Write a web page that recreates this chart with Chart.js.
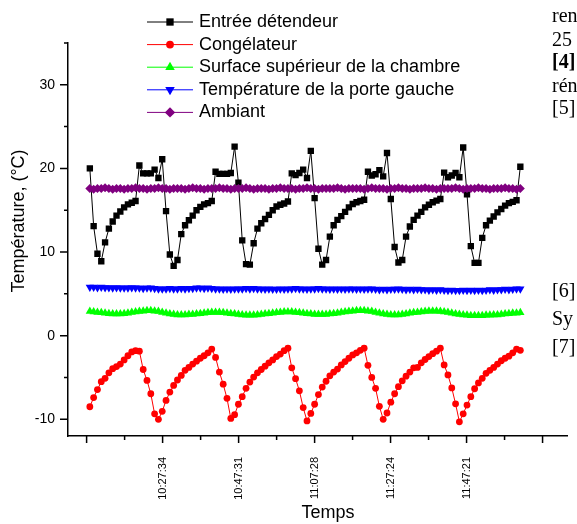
<!DOCTYPE html>
<html>
<head>
<meta charset="utf-8">
<script src="https://cdn.jsdelivr.net/npm/chart.js@4.4.0/dist/chart.umd.min.js"></script>
<style>
  html, body { margin: 0; padding: 0; background: #fff; overflow: hidden; }
  #wrap { position: relative; width: 577px; height: 524px; }
  .note { position: absolute; left: 552px; font: 20px "Liberation Serif", "Times New Roman", serif; line-height: 20px; white-space: nowrap; color: #000; }
  .note.b { font-weight: bold; }
</style>
</head>
<body>
<div id="wrap">
  <canvas id="chart" width="577" height="524"></canvas>
  <span class="note" style="top:5px">ren</span>
  <span class="note" style="top:29px">25</span>
  <span class="note b" style="top:51px">[4]</span>
  <span class="note" style="top:75px">rén</span>
  <span class="note" style="top:97px">[5]</span>
  <span class="note" style="top:280px">[6]</span>
  <span class="note" style="top:308px">Sy</span>
  <span class="note" style="top:336px">[7]</span>
</div>
<script>
// one sample per minute
const sampleStart = "10:08:28";
const sampleStep = 60;

const tickTimes = ["10:07:37", "10:27:34", "10:47:31", "11:07:28", "11:27:24", "11:47:21", "12:07:18"];
const tickShown = [false, true, true, true, true, true, false];
const yTicks = [-10, 0, 10, 20, 30];
const yMinor = [-5, 5, 15, 25, 35];

const entree = [
  20.0, 13.1, 9.8, 8.9, 11.15, 12.8, 13.65, 14.35, 14.85, 15.35,
  15.7, 15.9, 16.1, 20.35, 19.4, 19.4, 19.4, 19.85, 18.85, 21.1,
  14.9, 9.7, 8.35, 9.05, 12.15, 13.2, 13.8, 14.35, 15.0, 15.4,
  15.7, 15.85, 16.1, 19.6, 19.35, 19.35, 19.35, 19.45, 22.6, 18.3,
  11.4, 8.55, 8.5, 11.05, 12.8, 13.45, 13.95, 14.45, 15.0, 15.45,
  15.65, 15.8, 16.05, 19.4, 19.2, 19.45, 19.85, 18.85, 22.1, 16.45,
  10.4, 8.5, 9.05, 11.85, 13.2, 13.85, 14.3, 14.8, 15.35, 15.75,
  15.95, 16.1, 16.25, 19.6, 19.15, 19.3, 19.8, 19.05, 21.85, 16.35,
  10.6, 8.75, 9.05, 11.85, 13.05, 13.85, 14.35, 14.8, 15.35, 15.65,
  15.95, 16.15, 16.35, 19.5, 18.95, 19.15, 19.45, 18.95, 22.5, 16.9,
  10.7, 8.7, 8.7, 11.7, 13.2, 13.75, 14.25, 14.75, 15.15, 15.55,
  15.85, 16.0, 16.2, 20.2
];

const congelateur = [
  -8.5, -7.4, -6.45, -5.5, -5.1, -4.45, -3.95, -3.7, -3.4, -2.9,
  -2.4, -1.95, -1.8, -1.85, -4.05, -5.35, -6.95, -9.35, -10.0, -9.05,
  -7.75, -6.75, -5.95, -5.3, -4.75, -4.15, -3.8, -3.4, -3.05, -2.7,
  -2.4, -2.05, -1.6, -2.6, -4.35, -5.8, -7.5, -9.9, -9.45, -8.2,
  -7.3, -6.3, -5.55, -4.95, -4.45, -4.05, -3.65, -3.25, -2.9, -2.5,
  -2.2, -1.8, -1.5, -3.85, -5.15, -6.6, -8.6, -10.2, -9.3, -8.2,
  -7.05, -6.15, -5.45, -4.8, -4.35, -4.0, -3.5, -3.1, -2.7, -2.3,
  -2.05, -1.75, -1.5, -3.55, -5.0, -6.3, -8.45, -10.0, -9.25, -7.95,
  -6.95, -6.1, -5.4, -4.85, -4.35, -3.85, -3.8, -3.25, -2.85, -2.5,
  -2.15, -1.85, -1.5, -3.5, -4.7, -6.25, -8.15, -10.3, -9.35, -8.3,
  -7.3, -6.35, -5.65, -5.1, -4.5, -4.15, -3.8, -3.4, -3.0, -2.7,
  -2.45, -2.05, -1.6, -1.75
];

const surface = [
  2.9, 2.85, 2.8, 2.75, 2.7, 2.65, 2.6, 2.6, 2.6, 2.65,
  2.7, 2.8, 2.85, 2.9, 2.95, 3.0, 3.0, 2.95, 2.9, 2.8,
  2.7, 2.6, 2.55, 2.5, 2.5, 2.5, 2.55, 2.55, 2.6, 2.65,
  2.7, 2.75, 2.8, 2.8, 2.8, 2.75, 2.7, 2.65, 2.6, 2.55,
  2.5, 2.45, 2.45, 2.45, 2.5, 2.55, 2.6, 2.65, 2.7, 2.75,
  2.8, 2.85, 2.85, 2.85, 2.8, 2.75, 2.7, 2.65, 2.6, 2.55,
  2.55, 2.55, 2.55, 2.6, 2.65, 2.7, 2.8, 2.85, 2.9, 2.95,
  3.0, 3.0, 3.0, 2.95, 2.9, 2.8, 2.7, 2.6, 2.55, 2.5,
  2.5, 2.5, 2.55, 2.6, 2.7, 2.75, 2.8, 2.85, 2.9, 2.95,
  2.95, 2.95, 2.9, 2.85, 2.8, 2.7, 2.6, 2.55, 2.5, 2.45,
  2.4, 2.4, 2.4, 2.4, 2.45, 2.45, 2.5, 2.5, 2.55, 2.6,
  2.65, 2.7, 2.7, 2.75
];

const porte = [
  5.8, 5.8, 5.75, 5.8, 5.75, 5.75, 5.7, 5.75, 5.7, 5.7,
  5.7, 5.75, 5.7, 5.7, 5.65, 5.7, 5.7, 5.65, 5.6, 5.6,
  5.6, 5.65, 5.6, 5.6, 5.65, 5.6, 5.65, 5.65, 5.7, 5.7,
  5.65, 5.7, 5.65, 5.6, 5.6, 5.55, 5.6, 5.55, 5.6, 5.6,
  5.6, 5.65, 5.6, 5.65, 5.6, 5.6, 5.55, 5.6, 5.55, 5.55,
  5.6, 5.55, 5.6, 5.6, 5.65, 5.6, 5.6, 5.55, 5.6, 5.6,
  5.65, 5.6, 5.6, 5.55, 5.6, 5.55, 5.6, 5.55, 5.6, 5.6,
  5.55, 5.6, 5.55, 5.6, 5.6, 5.55, 5.5, 5.55, 5.5, 5.55,
  5.55, 5.6, 5.55, 5.5, 5.55, 5.5, 5.55, 5.5, 5.5, 5.45,
  5.5, 5.45, 5.5, 5.45, 5.4, 5.45, 5.4, 5.4, 5.45, 5.4,
  5.45, 5.4, 5.45, 5.4, 5.45, 5.5, 5.45, 5.5, 5.5, 5.55,
  5.5, 5.55, 5.6, 5.6
];

const ambiant = [
  17.6, 17.5, 17.6, 17.6, 17.7, 17.6, 17.5, 17.6, 17.6, 17.5,
  17.6, 17.6, 17.7, 17.6, 17.6, 17.5, 17.6, 17.6, 17.7, 17.6,
  17.6, 17.5, 17.6, 17.6, 17.6, 17.5, 17.6, 17.7, 17.6, 17.6,
  17.5, 17.6, 17.6, 17.6, 17.7, 17.6, 17.6, 17.5, 17.6, 17.6,
  17.6, 17.7, 17.6, 17.5, 17.6, 17.6, 17.6, 17.5, 17.6, 17.6,
  17.7, 17.6, 17.6, 17.6, 17.5, 17.6, 17.6, 17.7, 17.6, 17.6,
  17.5, 17.6, 17.6, 17.6, 17.6, 17.7, 17.6, 17.5, 17.6, 17.6,
  17.6, 17.6, 17.5, 17.6, 17.7, 17.6, 17.6, 17.6, 17.5, 17.6,
  17.6, 17.7, 17.6, 17.6, 17.5, 17.6, 17.6, 17.6, 17.7, 17.6,
  17.6, 17.5, 17.6, 17.6, 17.6, 17.6, 17.7, 17.6, 17.5, 17.6,
  17.6, 17.6, 17.7, 17.6, 17.6, 17.5, 17.6, 17.6, 17.6, 17.7,
  17.6, 17.6, 17.5, 17.6
];

const toSec = (s) => {
  const [h, m, sec] = s.split(":").map(Number);
  return h * 3600 + m * 60 + sec;
};
const t0 = toSec(sampleStart);
const xy = (vals) => vals.map((v, i) => ({ x: t0 + i * sampleStep, y: v }));

const FONT = "'Liberation Sans', Arial, sans-serif";

function series(label, vals, color, style, radius, order, rotation) {
  return {
    label,
    data: xy(vals),
    borderColor: color,
    backgroundColor: color,
    pointBackgroundColor: color,
    pointBorderWidth: 0,
    borderWidth: 1,
    pointStyle: style,
    pointRadius: radius,
    pointRotation: rotation || 0,
    order,
  };
}

// line + marker legend and axis titles, Origin style
const legendBox = {
  id: "legendBox",
  afterDraw(chart) {
    const ctx = chart.ctx;
    ctx.save();
    ctx.textBaseline = "middle";
    chart.data.datasets.forEach((ds, i) => {
      const y = 22 + i * 22.6;
      ctx.strokeStyle = ds.borderColor;
      ctx.lineWidth = 1;
      ctx.beginPath();
      ctx.moveTo(147, y);
      ctx.lineTo(193, y);
      ctx.stroke();
      ctx.fillStyle = ds.pointBackgroundColor;
      Chart.helpers.drawPoint(ctx, {
        pointStyle: ds.pointStyle, radius: ds.pointRadius * 1.15,
        rotation: ds.pointRotation, borderWidth: 0,
      }, 170, y);
      ctx.fillStyle = "#000";
      ctx.font = "18px " + FONT;
      ctx.fillText(ds.label, 199, y);
    });
    ctx.textAlign = "center";
    ctx.fillText("Temps", 328, 513);
    ctx.translate(19, 221);
    ctx.rotate(-Math.PI / 2);
    ctx.fillText("Température, (°C)", 0, 0);
    ctx.restore();
  },
};

// outward major/minor ticks
const axisTicks = {
  id: "axisTicks",
  afterDraw(chart) {
    const { ctx, scales: { x, y }, chartArea: a } = chart;
    ctx.save();
    ctx.strokeStyle = "#000";
    ctx.lineWidth = 1.5;
    ctx.beginPath();
    const yt = (v, len) => {
      const p = y.getPixelForValue(v);
      ctx.moveTo(a.left, p);
      ctx.lineTo(a.left - len, p);
    };
    yTicks.forEach((v) => yt(v, 8));
    yMinor.forEach((v) => yt(v, 4));
    const xs = tickTimes.map(toSec);
    const xt = (v, len) => {
      const p = x.getPixelForValue(v);
      if (p > a.right) return;
      ctx.moveTo(p, a.bottom);
      ctx.lineTo(p, a.bottom + len);
    };
    xs.forEach((v) => xt(v, 7));
    xs.slice(1).forEach((v, i) => xt((v + xs[i]) / 2, 4));
    ctx.stroke();
    ctx.restore();
  },
};

new Chart(document.getElementById("chart"), {
  type: "line",
  data: {
    datasets: [
      series("Entrée détendeur", entree, "#000000", "rect", 4.5, 1),
      series("Congélateur", congelateur, "#ff0000", "circle", 3.4, 2),
      series("Surface supérieur de la chambre", surface, "#00ff00", "triangle", 4.8, 3),
      series("Température de la porte gauche", porte, "#0000ff", "triangle", 4.8, 4, 180),
      series("Ambiant", ambiant, "#800080", "rectRot", 4.5, 0),
    ],
  },
  options: {
    responsive: false,
    animation: false,
    events: [],
    layout: { padding: { top: 43, right: 0, bottom: 0, left: 0 } },
    plugins: { legend: { display: false }, tooltip: { enabled: false } },
    scales: {
      x: {
        type: "linear",
        min: toSec("10:02:44"),
        max: toSec("12:13:45"),
        afterFit: (s) => { s.height = 88; },
        afterBuildTicks: (s) => { s.ticks = tickTimes.map((t) => ({ value: toSec(t) })); },
        grid: { drawOnChartArea: false, drawTicks: false },
        border: { color: "#000", width: 1.5 },
        ticks: {
          autoSkip: false, minRotation: 90, maxRotation: 90, padding: 21,
          color: "#000", font: { family: FONT, size: 11 },
          callback: (v, i) => (tickShown[i] ? tickTimes[i] : ""),
        },
      },
      y: {
        min: -12,
        max: 35,
        afterFit: (s) => { s.width = 68; },
        grid: { drawOnChartArea: false, drawTicks: false },
        border: { color: "#000", width: 1.5 },
        ticks: { stepSize: 10, includeBounds: false, padding: 13, color: "#000", font: { family: FONT, size: 14 } },
      },
    },
  },
  plugins: [legendBox, axisTicks],
});
</script>
</body>
</html>
